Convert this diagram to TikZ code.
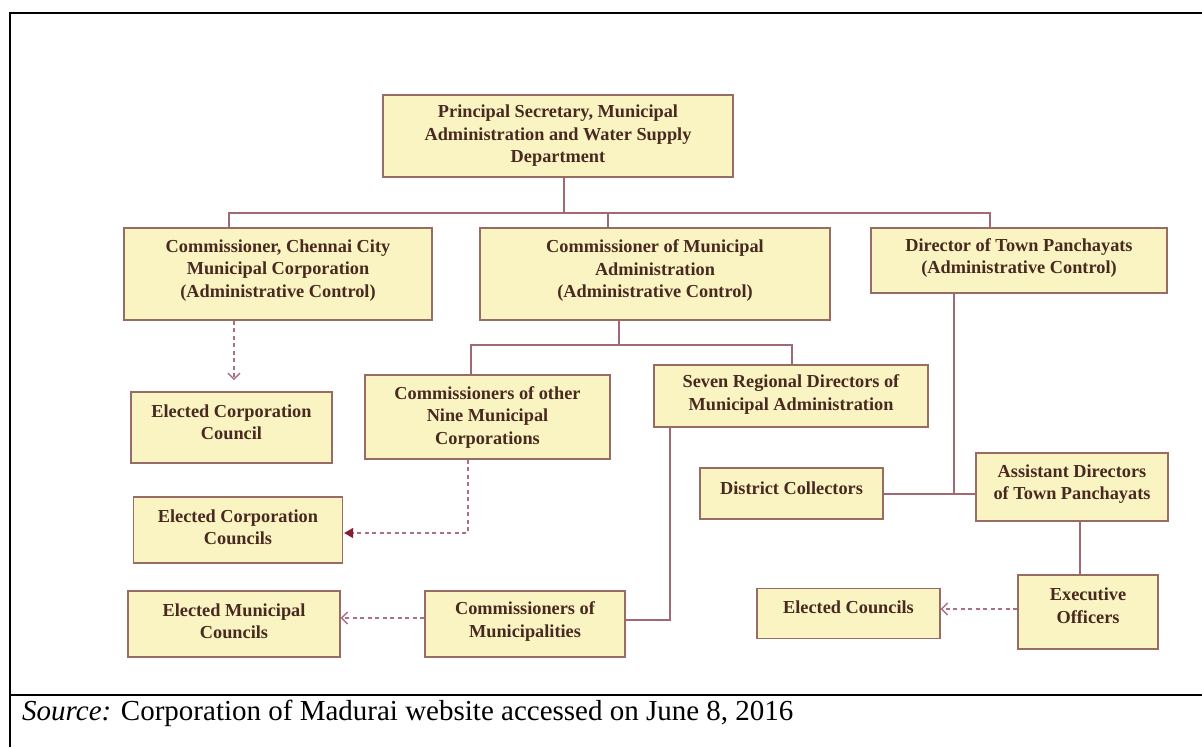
\documentclass[tikz,border=0pt]{standalone}
\usepackage{fontspec}
\setmainfont{Liberation Serif}
\usetikzlibrary{arrows.meta,calc}
\definecolor{boxfill}{RGB}{250,243,194}
\definecolor{boxline}{RGB}{150,108,100}
\definecolor{wire}{RGB}{160,105,115}
\definecolor{dashwire}{RGB}{170,110,135}
\definecolor{tiptone}{RGB}{135,30,50}
\definecolor{txt}{RGB}{72,42,32}
\tikzset{
  orgbox/.style={draw=boxline, fill=boxfill, line width=1.3pt, inner sep=0pt},
  orgtext/.style={text=txt, font=\fontsize{18.3}{22.5}\selectfont\bfseries,
    align=center, inner sep=0pt},
  solidlink/.style={draw=wire, line width=1.4pt},
  dashlink/.style={draw=dashwire, line width=1.4pt, dash pattern=on 4pt off 3.5pt},
  opentip/.style={-{Straight Barb[length=6pt,width=12pt,line width=1.4pt]}},
  filltip/.style={-{Triangle[length=9pt,width=10pt,color=tiptone]}, shorten >=1pt},
  frameline/.style={draw=black, line width=2.6pt}
}
% \orgunit{name}{x}{y}{width}{height}{text lift}{text}
\newcommand\orgunit[7]{%
  \node[orgbox, minimum width=#4, minimum height=#5] (#1) at (#2,#3) {};
  \node[orgtext] (#1-text) at (#2,{#3-#6}) {#7};
}
\begin{document}
\begin{tikzpicture}[x=1pt,y=-1pt]
\useasboundingbox[fill=white] (0,0) rectangle (1202,747);
% outer frame with the source row below
\draw[frameline] (10,747) -- (10,13) -- (1202,13);
\draw[frameline] (10,695) -- (1202,695);
\node[anchor=west, font=\fontsize{29}{33}\selectfont, inner sep=0pt] (src) at (22,713)
  {\textit{Source:} Corporation of Madurai website accessed on June 8, 2016};

% boxes
\orgunit{top}{558}{136}{350}{82}{0}
  {Principal Secretary, Municipal\\Administration and Water Supply\\Department}
\orgunit{chennai}{278}{274}{308}{92}{3.5}
  {Commissioner, Chennai City\\Municipal Corporation\\(Administrative Control)}
\orgunit{cma}{655}{274}{350}{92}{3}
  {Commissioner of Municipal\\Administration\\(Administrative Control)}
\orgunit{dtp}{1019}{260.5}{296}{65}{2.5}
  {Director of Town Panchayats\\(Administrative Control)}
\orgunit{ecc}{231.5}{427.5}{201}{71}{5}
  {Elected Corporation\\Council}
\orgunit{cnine}{487.5}{417}{245}{84}{0}
  {Commissioners of other\\Nine Municipal\\Corporations}
\orgunit{seven}{791}{396}{274}{62}{1.5}
  {Seven Regional Directors of\\Municipal Administration}
\orgunit{eccs}{238}{530}{209}{66}{2.5}
  {Elected Corporation\\Councils}
\orgunit{emc}{234}{624}{212}{66}{2.5}
  {Elected Municipal\\Councils}
\orgunit{com}{525}{624}{200}{66}{2.5}
  {Commissioners of\\Municipalities}
\orgunit{dc}{791.5}{493.5}{183}{51}{5}
  {District Collectors}
\orgunit{adtp}{1072}{487}{192}{68}{3}
  {Assistant Directors\\of Town Panchayats}
\orgunit{eo}{1088}{612}{140}{74}{6.5}
  {Executive\\Officers}
\orgunit{ec}{848.5}{613.5}{183}{50}{6}
  {Elected Councils}

% junction points of the connectors
\coordinate (j0) at (564,213);
\coordinate (busL) at (229,213);
\coordinate (busR) at (990,213);
\coordinate (jc) at (608,213);
\coordinate (j1) at (619,345);
\coordinate (b2L) at (471,345);
\coordinate (b2R) at (792,345);
\coordinate (k1) at (468,533);
\coordinate (k2) at (670,620);
\coordinate (k3) at (0,618);
\coordinate (k4) at (954,494);
\coordinate (k5) at (1080,0);
\coordinate (k6) at (0,609);
\coordinate (k7) at (234,380);

% solid reporting lines
\draw[solidlink] (j0 |- top.south) -- (j0);
\draw[solidlink] (busL |- chennai.north) -- (busL) -- (busR) -- (busR |- dtp.north);
\draw[solidlink] (jc |- cma.north) -- (jc);
\draw[solidlink] (j1 |- cma.south) -- (j1);
\draw[solidlink] (b2L |- cnine.north) -- (b2L) -- (b2R) -- (b2R |- seven.north);
\draw[solidlink] (k2 |- seven.south) -- (k2) -- (com.east |- k2);
\draw[solidlink] (k4 |- dtp.south) -- (k4);
\draw[solidlink] (dc.east |- k4) -- (adtp.west |- k4);
\draw[solidlink] (k5 |- adtp.south) -- (k5 |- eo.north);

% dashed links to the elected bodies
\draw[dashlink, opentip] (k7 |- chennai.south) -- (k7);
\draw[dashlink, filltip] (k1 |- cnine.south) -- (k1) -- (eccs.east |- k1);
\draw[dashlink, opentip] (com.west |- k3) -- (emc.east |- k3);
\draw[dashlink, opentip] (eo.west |- k6) -- (ec.east |- k6);
\end{tikzpicture}
\end{document}
